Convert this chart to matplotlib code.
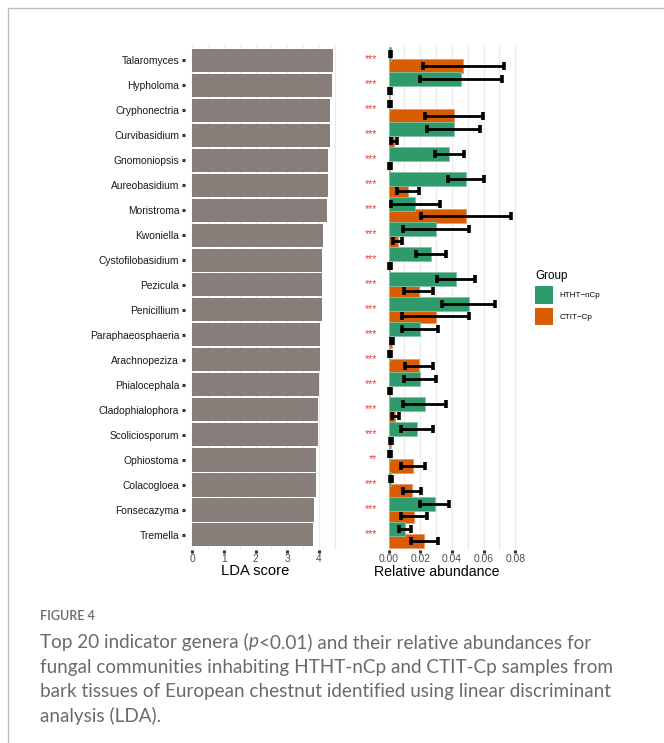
import matplotlib
matplotlib.use("Agg")
import matplotlib.pyplot as plt
from matplotlib.patches import Patch, Rectangle
from matplotlib.transforms import blended_transform_factory
import numpy as np

# data (top to bottom)
genera = ["Talaromyces", "Hypholoma", "Cryphonectria", "Curvibasidium", "Gnomoniopsis",
          "Aureobasidium", "Moristroma", "Kwoniella", "Cystofilobasidium", "Pezicula",
          "Penicillium", "Paraphaeosphaeria", "Arachnopeziza", "Phialocephala",
          "Cladophialophora", "Scoliciosporum", "Ophiostoma", "Colacogloea",
          "Fonsecazyma", "Tremella"]
lda = [4.43, 4.40, 4.35, 4.35, 4.30, 4.27, 4.24, 4.14, 4.11, 4.08,
       4.08, 4.03, 4.03, 4.00, 3.97, 3.97, 3.91, 3.91, 3.83, 3.80]
htht_mean = [0.0014, 0.0457, 0.0010, 0.0411, 0.0384, 0.0490, 0.0170, 0.0302, 0.0267, 0.0426,
             0.0506, 0.0200, 0.0010, 0.0200, 0.0228, 0.0178, 0.0010, 0.0015, 0.0291, 0.0104]
htht_se = [0.0004, 0.0257, 0.0004, 0.0166, 0.0090, 0.0112, 0.0155, 0.0208, 0.0095, 0.0122,
           0.0168, 0.0113, 0.0004, 0.0101, 0.0134, 0.0101, 0.0004, 0.0005, 0.0093, 0.0038]
ctit_mean = [0.0473, 0.0010, 0.0412, 0.0035, 0.0010, 0.0121, 0.0488, 0.0058, 0.0010, 0.0190,
             0.0299, 0.0020, 0.0193, 0.0010, 0.0044, 0.0015, 0.0153, 0.0150, 0.0160, 0.0226]
ctit_se = [0.0257, 0.0004, 0.0182, 0.0021, 0.0004, 0.0069, 0.0283, 0.0028, 0.0004, 0.0093,
           0.0212, 0.0006, 0.0086, 0.0004, 0.0024, 0.0005, 0.0075, 0.0056, 0.0081, 0.0084]
signif = ["***"] * 16 + ["**"] + ["***"] * 3
groups = ["HTHT\u2212nCp", "CTIT\u2212Cp"]
colors = ["#2F9A6C", "#D95B02"]

W, H = 664, 743
fig = plt.figure(figsize=(W / 100, H / 100), dpi=100)
plt.rcParams["font.family"] = ["Liberation Sans", "DejaVu Sans"]

def fbox(x0, x1, ytop, ybot):
    return [x0 / W, 1 - ybot / H, (x1 - x0) / W, (ybot - ytop) / H]

# frame around the figure panel
fig.add_artist(Rectangle((8 / W, -0.01), 1.0, 1 - 8 / H + 0.01, transform=fig.transFigure,
                         fill=False, edgecolor="#BDBDBD", linewidth=1.0))

y = np.arange(len(genera))
ax1 = fig.add_axes(fbox(185, 339.6, 45, 550))
ax2 = fig.add_axes(fbox(382.4, 516.7, 45, 550))

# left: LDA score
ax1.barh(y, lda, height=0.92, color="#877E7A", zorder=2)
ax1.set_xlim(-0.2215, 4.65)
ax1.set_xticks([0, 1, 2, 3, 4])
ax1.set_xticks(np.arange(0.5, 4.6, 1.0), minor=True)
ax1.set_yticks(y)
ax1.set_yticklabels(genera)

# right: relative abundance
off = 0.24
ax2.barh(y + off, ctit_mean, height=0.56, color=colors[1], edgecolor="#E89A6A",
         linewidth=0.6, zorder=2)
ax2.barh(y - off, htht_mean, height=0.56, color=colors[0], edgecolor="#86C4A6",
         linewidth=0.6, zorder=3)
ekw = dict(fmt="none", ecolor="black", elinewidth=2.0, capsize=2.6, capthick=2.6, zorder=4)
ax2.errorbar(ctit_mean, y + off, xerr=ctit_se, **ekw)
ax2.errorbar(htht_mean, y - off, xerr=htht_se, **ekw)
ax2.set_xlim(-0.00385, 0.0809)
ax2.set_xticks([0, 0.02, 0.04, 0.06, 0.08])
ax2.set_xticklabels(["0.00", "0.02", "0.04", "0.06", "0.08"])
ax2.set_xticks(np.arange(0.01, 0.08, 0.02), minor=True)
ax2.set_yticks([])

star_tr = blended_transform_factory(fig.transFigure, ax2.transData)
for s, yy in zip(signif, y):
    ax2.text(377 / W, yy - 0.05, s, transform=star_tr, ha="right", va="center",
             color="#EE3B3B", fontsize=7.5)

for ax in (ax1, ax2):
    ax.set_ylim(len(genera) - 0.4, -0.6)
    for sp in ax.spines.values():
        sp.set_visible(False)
    ax.grid(axis="x", which="both", color="#EBEBEB", linewidth=1.0, zorder=0)
    ax.set_axisbelow(True)
    ax.tick_params(axis="x", which="major", length=2.2, width=2.2, color="#333333",
                   labelsize=7.4, labelcolor="#4D4D4D", pad=1.0)
    ax.tick_params(axis="x", which="minor", length=0)
    ax.tick_params(axis="y", length=2.2, width=2.2, color="#333333", labelsize=7.4,
                   labelcolor="#1A1A1A", pad=2.0)

ax1.set_xlabel("LDA score", fontsize=10.6, color="black")
ax1.xaxis.set_label_coords((255 - 185) / 154.6, -(571 - 550) / 505)
ax1.xaxis.label.set_va("center")
ax2.set_xlabel("Relative abundance", fontsize=10.2, color="black")
ax2.xaxis.set_label_coords((436.5 - 382.4) / 134.3, -(571.5 - 550) / 505)
ax2.xaxis.label.set_va("center")

handles = [Patch(facecolor=c, edgecolor="none") for c in colors]
leg = ax2.legend(handles, groups, title="Group", loc="upper left",
                 bbox_to_anchor=(535 / W, 1 - 270 / H), bbox_transform=fig.transFigure,
                 frameon=False, fontsize=5.8, title_fontsize=8.4, handlelength=2.2,
                 handleheight=3.0, labelspacing=0.5, handletextpad=0.8, borderpad=0,
                 borderaxespad=0)
leg._legend_box.align = "left"

# caption
cap_font = ["Lato", "DejaVu Sans"]
cap_col = "#6A6A6A"
fig.text(40 / W, 1 - 616 / H, "FIGURE 4", family=cap_font, fontsize=9.0, color=cap_col,
         weight="semibold", va="center")
lines = ["fungal communities inhabiting HTHT-nCp and CTIT-Cp samples from",
         "bark tissues of European chestnut identified using linear discriminant",
         "analysis (LDA)."]
fig.canvas.draw()
r = fig.canvas.get_renderer()
x = 40
for part, style in [("Top 20 indicator genera (", "normal"), ("p", "italic"),
                    ("<0.01) and their relative abundances for", "normal")]:
    t = fig.text(x / W, 1 - 642 / H, part, family=cap_font, fontsize=13.6, color=cap_col,
                 style=style, va="center")
    x += t.get_window_extent(r).width
for i, ln in enumerate(lines):
    fig.text(40 / W, 1 - (667 + 24.7 * i) / H, ln, family=cap_font, fontsize=13.6,
             color=cap_col, va="center")

fig.savefig("out.png", dpi=100)
